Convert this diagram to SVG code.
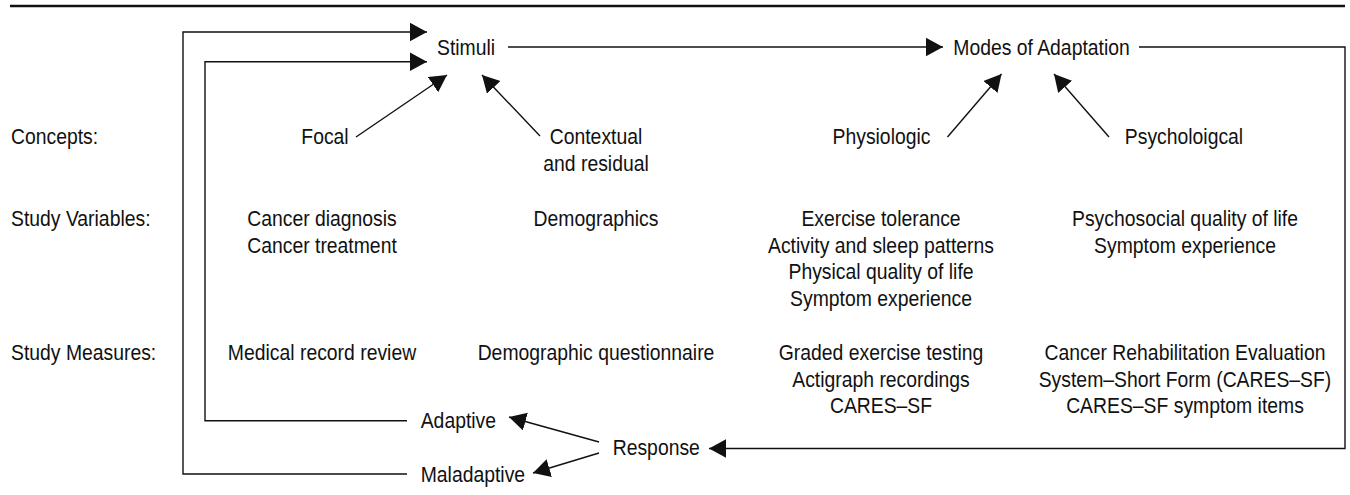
<svg xmlns="http://www.w3.org/2000/svg" width="1350" height="495" viewBox="0 0 1350 495">
<defs>
<style>
text{font-family:"Liberation Sans",Arial,Helvetica,sans-serif;font-size:22px;fill:#111}
.c{text-anchor:middle}
.s{text-anchor:start}
.ln{fill:none;stroke:#111;stroke-width:1.4}
</style>
<marker id="ah" markerUnits="userSpaceOnUse" viewBox="0 0 18 19" markerWidth="18" markerHeight="19" refX="17" refY="9.25" orient="auto">
<path d="M0,0 L17,9.25 L0,18.5 z" fill="#111"/>
</marker>
</defs>
<rect width="1350" height="495" fill="#fff"/>
<line x1="10" y1="6" x2="1345" y2="6" stroke="#111" stroke-width="2.6"/>

<g id="connectors">
<path class="ln" d="M407,474 H183 V32 H427" marker-end="url(#ah)"/>
<path class="ln" d="M407,420.7 H205 V61.7 H427" marker-end="url(#ah)"/>
<path class="ln" d="M508,47 H943" marker-end="url(#ah)"/>
<path class="ln" d="M1139,47 H1345 V448.5 H709" marker-end="url(#ah)"/>
<line class="ln" x1="356" y1="137" x2="447" y2="75" marker-end="url(#ah)"/>
<line class="ln" x1="540" y1="136" x2="482" y2="75" marker-end="url(#ah)"/>
<line class="ln" x1="947.5" y1="137" x2="1001.5" y2="74" marker-end="url(#ah)"/>
<line class="ln" x1="1109" y1="137" x2="1054" y2="74" marker-end="url(#ah)"/>
<line class="ln" x1="599" y1="442" x2="509" y2="417" marker-end="url(#ah)"/>
<line class="ln" x1="599" y1="453" x2="533" y2="473" marker-end="url(#ah)"/>
</g>

<g id="stimuli"><text class="c" transform="translate(466,55) scale(0.88,1)">Stimuli</text></g>
<g id="modes"><text class="c" transform="translate(1041.5,55) scale(0.88,1)">Modes of Adaptation</text></g>

<g id="label-concepts"><text class="s" transform="translate(11,144) scale(0.88,1)">Concepts:</text></g>
<g id="label-variables"><text class="s" transform="translate(11,226) scale(0.88,1)">Study Variables:</text></g>
<g id="label-measures"><text class="s" transform="translate(11,360) scale(0.88,1)">Study Measures:</text></g>

<g id="focal"><text class="c" transform="translate(325,144) scale(0.88,1)">Focal</text></g>
<g id="contextual"><text class="c" transform="translate(596,144) scale(0.88,1)"><tspan x="0" y="0">Contextual</tspan><tspan x="0" y="27">and residual</tspan></text></g>
<g id="physiologic"><text class="c" transform="translate(881.5,144) scale(0.88,1)">Physiologic</text></g>
<g id="psychological"><text class="c" transform="translate(1184,144) scale(0.88,1)">Psycholoigcal</text></g>

<g id="var-focal"><text class="c" transform="translate(322,226) scale(0.88,1)"><tspan x="0" y="0">Cancer diagnosis</tspan><tspan x="0" y="26.7">Cancer treatment</tspan></text></g>
<g id="var-contextual"><text class="c" transform="translate(596,226) scale(0.88,1)">Demographics</text></g>
<g id="var-physiologic"><text class="c" transform="translate(881,226) scale(0.88,1)"><tspan x="0" y="0">Exercise tolerance</tspan><tspan x="0" y="26.7">Activity and sleep patterns</tspan><tspan x="0" y="53.4">Physical quality of life</tspan><tspan x="0" y="80.1">Symptom experience</tspan></text></g>
<g id="var-psychological"><text class="c" transform="translate(1185,226) scale(0.88,1)"><tspan x="0" y="0">Psychosocial quality of life</tspan><tspan x="0" y="26.7">Symptom experience</tspan></text></g>

<g id="meas-focal"><text class="c" transform="translate(322,360) scale(0.88,1)">Medical record review</text></g>
<g id="meas-contextual"><text class="c" transform="translate(596,360) scale(0.88,1)">Demographic questionnaire</text></g>
<g id="meas-physiologic"><text class="c" transform="translate(881,360) scale(0.88,1)"><tspan x="0" y="0">Graded exercise testing</tspan><tspan x="0" y="26.7">Actigraph recordings</tspan><tspan x="0" y="53.4">CARES–SF</tspan></text></g>
<g id="meas-psychological"><text class="c" transform="translate(1185,360) scale(0.88,1)"><tspan x="0" y="0">Cancer Rehabilitation Evaluation</tspan><tspan x="0" y="26.7">System–Short Form (CARES–SF)</tspan><tspan x="0" y="53.4">CARES–SF symptom items</tspan></text></g>

<g id="adaptive"><text class="s" transform="translate(420.7,428) scale(0.88,1)">Adaptive</text></g>
<g id="response"><text class="s" transform="translate(612.7,455) scale(0.88,1)">Response</text></g>
<g id="maladaptive"><text class="s" transform="translate(420.7,482) scale(0.88,1)">Maladaptive</text></g>
</svg>
